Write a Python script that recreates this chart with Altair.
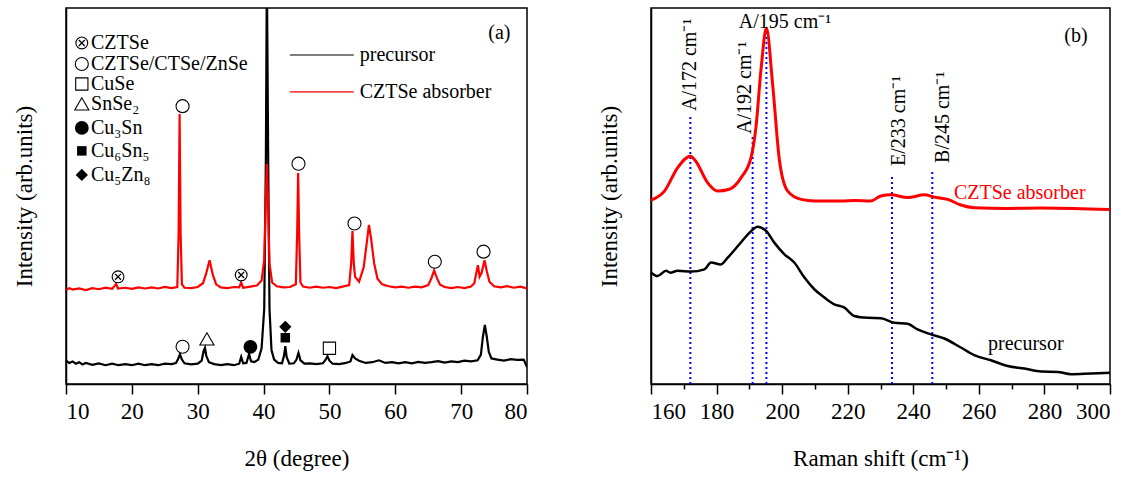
import altair as alt
import pandas as pd

FONT = "Liberation Serif"

# ---------------- Panel (a): XRD ----------------
prec_2theta = [10.0, 10.5, 11, 11.5, 12, 12.5, 13, 14, 15, 16, 17, 18, 19, 20, 21, 22, 23, 24, 25, 26, 26.7,
               27.0, 27.3, 27.6, 28.0, 29, 30, 30.6, 30.9, 31.1, 31.3, 31.7, 32.5, 33.5, 34.5, 35.5, 36.3,
               36.6, 36.9, 37.4, 37.8, 38.1, 38.6, 39.2, 39.7, 40.1, 40.35, 40.5, 40.7, 40.9, 41.2, 41.6,
               42.2, 42.8, 43.1, 43.3, 43.5, 43.9, 44.6, 45.0, 45.3, 45.6, 46.2, 47, 48, 49, 49.4, 49.7,
               50.0, 50.5, 51.5, 52.5, 53.2, 53.5, 53.9, 54.5, 55.5, 56.5, 57.5, 58.5, 59.5, 60.5, 61.5,
               62.5, 63.5, 64.5, 65.5, 66.5, 67.5, 68.5, 69.5, 70.5, 71.5, 72.5, 73.0, 73.3, 73.6, 73.9,
               74.2, 74.6, 75.5, 76.5, 77.5, 78.5, 79.5, 80.0]
prec_int = [6.2, 5.6, 6.0, 5.4, 5.8, 5.2, 5.6, 5.1, 5.5, 5.0, 5.4, 5.0, 5.3, 5.0, 5.4, 5.0, 5.3, 5.0, 5.4, 5.3, 5.6,
            6.6, 7.9, 6.5, 5.5, 5.2, 5.4, 6.2, 8.8, 9.6, 7.5, 5.8, 5.3, 5.0, 5.3, 5.0, 5.4,
            7.2, 5.5, 5.6, 8.0, 6.0, 5.8, 6.5, 9.5, 20, 60, 110, 60, 20, 9, 6.5,
            5.6, 5.5, 7.5, 10.1, 7.2, 5.4, 5.5, 6.5, 8.3, 6.3, 5.4, 5.5, 5.3, 5.5, 6.4, 7.4,
            6.2, 5.4, 5.3, 5.6, 6.0, 7.7, 6.8, 6.2, 5.6, 5.8, 6.3, 5.6, 5.8, 5.5, 5.8,
            5.5, 5.9, 5.6, 5.8, 6.1, 5.7, 6.0, 5.8, 6.2, 6.0, 6.3, 7.8, 12.5, 15.7, 12.5,
            8.5, 6.8, 6.5, 6.2, 6.6, 6.4, 6.5, 4.5]

abs_2theta = [10, 10.5, 11, 12, 13, 14, 15, 16, 17, 17.6, 17.9, 19, 20, 21, 22, 23, 24, 25, 26, 26.9,
              27.1, 27.25, 27.4, 27.6, 28, 29, 30, 30.8, 31.3, 31.8, 32.3, 32.8, 33.5, 34.5, 35.5, 36.3,
              36.6, 36.9, 38, 39.0, 39.7, 40.1, 40.35, 40.5, 40.65, 40.9, 41.3, 42, 43, 44, 44.9,
              45.1, 45.25, 45.4, 45.6, 46, 47, 48, 49, 50, 51, 52, 53.0, 53.3, 53.5, 53.7, 53.9,
              54.5, 55.2, 55.7, 56.0, 56.3, 56.8, 57.3, 58, 59, 60, 61, 62, 63, 64, 65.0, 65.5,
              65.9, 66.3, 66.8, 67.5, 68.5, 69.5, 70.5, 71.5, 72.0, 72.3, 72.55, 72.8, 73.1, 73.55,
              73.9, 74.3, 75, 76, 77, 78, 79, 80]
abs_int = [25.0, 25.5, 25.1, 25.4, 25.0, 25.5, 25.2, 25.6, 25.3, 26.6, 25.4, 25.6, 25.3, 25.7, 25.4, 25.7, 25.4, 25.8, 25.5, 25.8,
           40, 71.8, 40, 26.5, 25.6, 25.5, 25.8, 26.8, 29.5, 32.9, 29.0, 26.5, 25.7, 25.5, 25.8, 25.7,
           27.0, 25.6, 25.9, 26.2, 27.5, 33, 50, 58.5, 50, 32, 27, 26.0, 25.7, 25.8, 26.5,
           40, 56.1, 40, 27, 25.9, 25.6, 25.9, 25.6, 25.8, 25.5, 25.9, 26.3, 32, 40.7, 32, 28.5,
           27.2, 31.0, 38, 42.3, 39, 32, 28.0, 26.5, 26.0, 25.7, 25.9, 25.6, 25.9, 25.7, 26.3, 28.2,
           30.2, 28.3, 26.4, 25.8, 25.5, 25.8, 25.5, 25.9, 26.8, 29.5, 31.6, 28.5, 29.5, 32.9,
           30, 27.2, 26.0, 25.7, 26.0, 25.6, 25.9, 25.4]

# phase markers on the patterns and in the symbol key
mk_x = [17.9, 36.6, 27.7, 45.3, 53.8, 66.0, 73.4,
        27.7, 31.4, 38.0, 43.3, 43.3, 50.0,
        12.4, 12.4, 12.4, 12.4, 12.4, 12.4, 12.4]
mk_y = [28.5, 29.0, 73.9, 58.6, 42.7, 32.5, 35.2,
        9.9, 12.0, 9.9, 15.2, 12.3, 9.5,
        90.7, 85.1, 79.8, 74.5, 68.1, 62.0, 55.6]
mk_kind = ["otimes", "otimes", "ocircle", "ocircle", "ocircle", "ocircle", "ocircle",
           "ocircle", "otriangle", "fcircle", "fdiamond", "fsquare", "osquare",
           "otimes", "ocircle", "osquare", "otriangle", "fcircle", "fsquare", "fdiamond"]

key_labels = ["CZTSe", "CZTSe/CTSe/ZnSe", "CuSe", "SnSe₂", "Cu₃Sn", "Cu₆Sn₅", "Cu₅Zn₈"]
key_x = [13.8] * 7
key_y = [90.7, 85.1, 79.8, 74.5, 68.1, 62.0, 55.6]

series_names = ["precursor", "CZTSe absorber"]
series_colors = ["black", "red"]
leg_x1 = [44.0, 44.0]
leg_x2 = [53.7, 53.7]
leg_y = [87.5, 77.7]
leg_tx = [54.6, 54.6]

# ---------------- Panel (b): Raman ----------------
r_abs_x = [160, 164.1, 168.1, 172.0, 173.6, 177.3, 180.3, 183.9, 187.5, 190.5, 192.0, 193.6, 195.2,
           197.1, 199.2, 201.7, 205.8, 209.9, 218.0, 222.1, 227.1, 230.1, 233.2, 238.3, 243.4, 246.4,
           250.5, 254.5, 258.6, 268.8, 278.9, 289.1, 300]
r_abs_y = [48.9, 51.3, 57.5, 60.6, 59.3, 53.5, 51.3, 51.8, 54.9, 60.2, 68.2, 84.1, 94.7,
           79.7, 59.3, 51.3, 49.1, 48.7, 48.7, 48.8, 48.7, 50.0, 50.3, 49.6, 50.3, 49.7,
           49.1, 47.6, 46.9, 46.7, 46.8, 46.7, 46.4]

r_pre_x = [160, 162.0, 164.6, 165.9, 168.1, 172.2, 176.3, 178.3, 181.3, 183.4, 186.9, 190.0, 192.5,
           195.1, 197.6, 200.7, 203.7, 206.8, 209.8, 212.9, 215.9, 219.0, 222.0, 226.1, 230.1, 234.2,
           238.3, 241.3, 245.4, 249.5, 254.5, 258.6, 263.7, 268.8, 273.9, 279.0, 284.0, 288.1, 294.2, 300]
r_pre_y = [29.6, 28.7, 30.1, 29.6, 30.1, 29.9, 30.5, 32.3, 31.8, 33.6, 37.1, 40.2, 41.8,
           40.7, 37.6, 34.5, 32.3, 28.3, 25.2, 23.0, 21.2, 20.3, 18.1, 17.6, 17.5, 16.3,
           16.0, 14.5, 13.2, 12.1, 9.7, 7.7, 6.3, 4.8, 4.1, 3.3, 3.2, 2.6, 2.8, 3.0]

mode_x = [172.0, 191.0, 195.2, 233.5, 245.8]
mode_top = [71.8, 66.0, 94.0, 55.8, 56.6]

vlab_text = ["A/172 cm⁻¹", "A/192 cm⁻¹", "E/233 cm⁻¹", "B/245 cm⁻¹"]
vlab_x = [171.9, 188.7, 235.6, 249.1]
vlab_y = [72.6, 66.5, 58.0, 58.8]
hlab_text = ["A/195 cm⁻¹"]
hlab_x = [200.9]
hlab_y = [96.3]

# ---------------- build ----------------
W_A, W_B, H = 461, 459, 376

SHAPE = {"ocircle": "circle", "osquare": "square", "otriangle": "triangle-up", "otimes": "circle",
         "fcircle": "circle", "fsquare": "square", "fdiamond": "diamond"}
SIZE = {"ocircle": 170, "osquare": 150, "otriangle": 200, "otimes": 140,
        "fcircle": 190, "fsquare": 90, "fdiamond": 150}

xa_scale = alt.Scale(domain=[10, 80], nice=False)
xb_scale = alt.Scale(domain=[160, 300], nice=False)
y_scale = alt.Scale(domain=[0, 100], nice=False)

def x_axis(title, vals, major):
    return alt.Axis(
        title=title, values=vals, grid=False,
        labelExpr=f"datum.value % {major} == 0 ? datum.label : ''",
        tickSize={"condition": {"test": f"datum.value % {major} == 0", "value": 10}, "value": 5},
        labelPadding=6, titlePadding=24,
    )

y_axis = alt.Axis(title="Intensity (arb.units)", ticks=False, labels=False, grid=False, titlePadding=30)

# panel (a)
df_prec = pd.DataFrame({"x": prec_2theta, "y": prec_int})
df_abs = pd.DataFrame({"x": abs_2theta, "y": abs_int})
df_mk = pd.DataFrame({"x": mk_x, "y": mk_y, "kind": mk_kind})
df_mk["shape"] = df_mk["kind"].map(SHAPE)
df_mk["size"] = df_mk["kind"].map(SIZE)
df_key = pd.DataFrame({"x": key_x, "y": key_y, "t": key_labels})
df_leg = pd.DataFrame({"x": leg_x1, "x2": leg_x2, "y": leg_y, "tx": leg_tx, "t": series_names, "c": series_colors})

xa = alt.X("x:Q", scale=xa_scale, axis=x_axis("2θ (degree)", list(range(10, 81, 5)), 10))
ya = alt.Y("y:Q", scale=y_scale, axis=y_axis)

line_prec = alt.Chart(df_prec).mark_line(color="black", strokeWidth=2.2, clip=True).encode(x=xa, y=ya)
line_abs = alt.Chart(df_abs).mark_line(color="red", strokeWidth=2.2, clip=True).encode(x=xa, y=ya)

open_mk = alt.Chart(df_mk).transform_filter(
    alt.FieldOneOfPredicate(field="kind", oneOf=["ocircle", "osquare", "otriangle", "otimes"])
).mark_point(filled=False, color="black", strokeWidth=1.1, opacity=1).encode(
    x=xa, y=ya,
    shape=alt.Shape("shape:N", scale=None, legend=None),
    size=alt.Size("size:Q", scale=None, legend=None),
)
times_mk = alt.Chart(df_mk).transform_filter(alt.datum.kind == "otimes").mark_point(
    shape="M-0.5,-0.5L0.5,0.5M-0.5,0.5L0.5,-0.5", filled=False, color="black", strokeWidth=1.3, size=140, opacity=1
).encode(x=xa, y=ya)
filled_mk = alt.Chart(df_mk).transform_filter(
    alt.FieldOneOfPredicate(field="kind", oneOf=["fcircle", "fsquare", "fdiamond"])
).mark_point(filled=True, color="black", opacity=1).encode(
    x=xa, y=ya,
    shape=alt.Shape("shape:N", scale=None, legend=None),
    size=alt.Size("size:Q", scale=None, legend=None),
)
key_text = alt.Chart(df_key).mark_text(align="left", baseline="middle", font=FONT, fontSize=20, color="black").encode(
    x=xa, y=ya, text="t:N")
leg_rule = alt.Chart(df_leg).mark_rule(strokeWidth=1.2).encode(
    x=xa, x2="x2:Q", y=ya, color=alt.Color("c:N", scale=None))
leg_text = alt.Chart(df_leg).mark_text(align="left", baseline="middle", font=FONT, fontSize=20, color="black").encode(
    x=alt.X("tx:Q", scale=xa_scale), y=ya, text="t:N")
tag_a = alt.Chart(pd.DataFrame({"x": [75.8], "y": [93.4], "t": ["(a)"]})).mark_text(
    font=FONT, fontSize=20, color="black").encode(x=xa, y=ya, text="t:N")

panel_a = alt.layer(line_prec, line_abs, open_mk, times_mk, filled_mk, key_text, leg_rule, leg_text, tag_a).properties(
    width=W_A, height=H)

# panel (b)
df_rabs = pd.DataFrame({"x": r_abs_x, "y": r_abs_y})
df_rpre = pd.DataFrame({"x": r_pre_x, "y": r_pre_y})
df_modes = pd.DataFrame({"x": mode_x, "y0": [0] * len(mode_x), "y": mode_top})
df_vlab = pd.DataFrame({"x": vlab_x, "y": vlab_y, "t": vlab_text})
df_hlab = pd.DataFrame({"x": hlab_x, "y": hlab_y, "t": hlab_text})
df_names = pd.DataFrame({"x": [252.4, 262.8], "y": [50.8, 10.6], "t": ["CZTSe absorber", "precursor"],
                         "c": ["red", "black"]})

xb = alt.X("x:Q", scale=xb_scale, axis=x_axis("Raman shift (cm⁻¹)", list(range(160, 301, 10)), 20))
yb = alt.Y("y:Q", scale=y_scale, axis=y_axis)

modes = alt.Chart(df_modes).mark_rule(color="#0000ff", strokeWidth=2, strokeDash=[2, 3]).encode(
    x=xb, y=alt.Y("y0:Q", scale=y_scale, axis=y_axis), y2="y:Q")
r_pre = alt.Chart(df_rpre).mark_line(color="black", strokeWidth=2.5, interpolate="monotone").encode(x=xb, y=yb)
r_abs = alt.Chart(df_rabs).mark_line(color="red", strokeWidth=3, interpolate="monotone").encode(x=xb, y=yb)
vlab = alt.Chart(df_vlab).mark_text(angle=270, align="left", baseline="middle", font=FONT, fontSize=20,
                                    color="black").encode(x=xb, y=yb, text="t:N")
hlab = alt.Chart(df_hlab).mark_text(align="center", baseline="middle", font=FONT, fontSize=20,
                                    color="black").encode(x=xb, y=yb, text="t:N")
names = alt.Chart(df_names).mark_text(align="left", baseline="middle", font=FONT, fontSize=20).encode(
    x=xb, y=yb, text="t:N", color=alt.Color("c:N", scale=None))
tag_b = alt.Chart(pd.DataFrame({"x": [289.6], "y": [92.6], "t": ["(b)"]})).mark_text(
    font=FONT, fontSize=20, color="black").encode(x=xb, y=yb, text="t:N")

panel_b = alt.layer(modes, r_pre, r_abs, vlab, hlab, names, tag_b).properties(width=W_B, height=H)

chart = alt.hconcat(panel_a, panel_b, spacing=124, bounds="flush").properties(
    padding={"left": 12, "top": 7, "right": 5, "bottom": 5}, background="white"
).configure_view(stroke="black", strokeWidth=1.5).configure_axis(
    domainColor="black", domainWidth=1.5, tickColor="black", tickWidth=1.5,
    labelFont=FONT, labelFontSize=23, labelColor="black",
    titleFont=FONT, titleFontSize=23, titleFontWeight="normal", titleColor="black",
)

chart.save("out.html", embed_options={"renderer": "svg", "actions": False})
